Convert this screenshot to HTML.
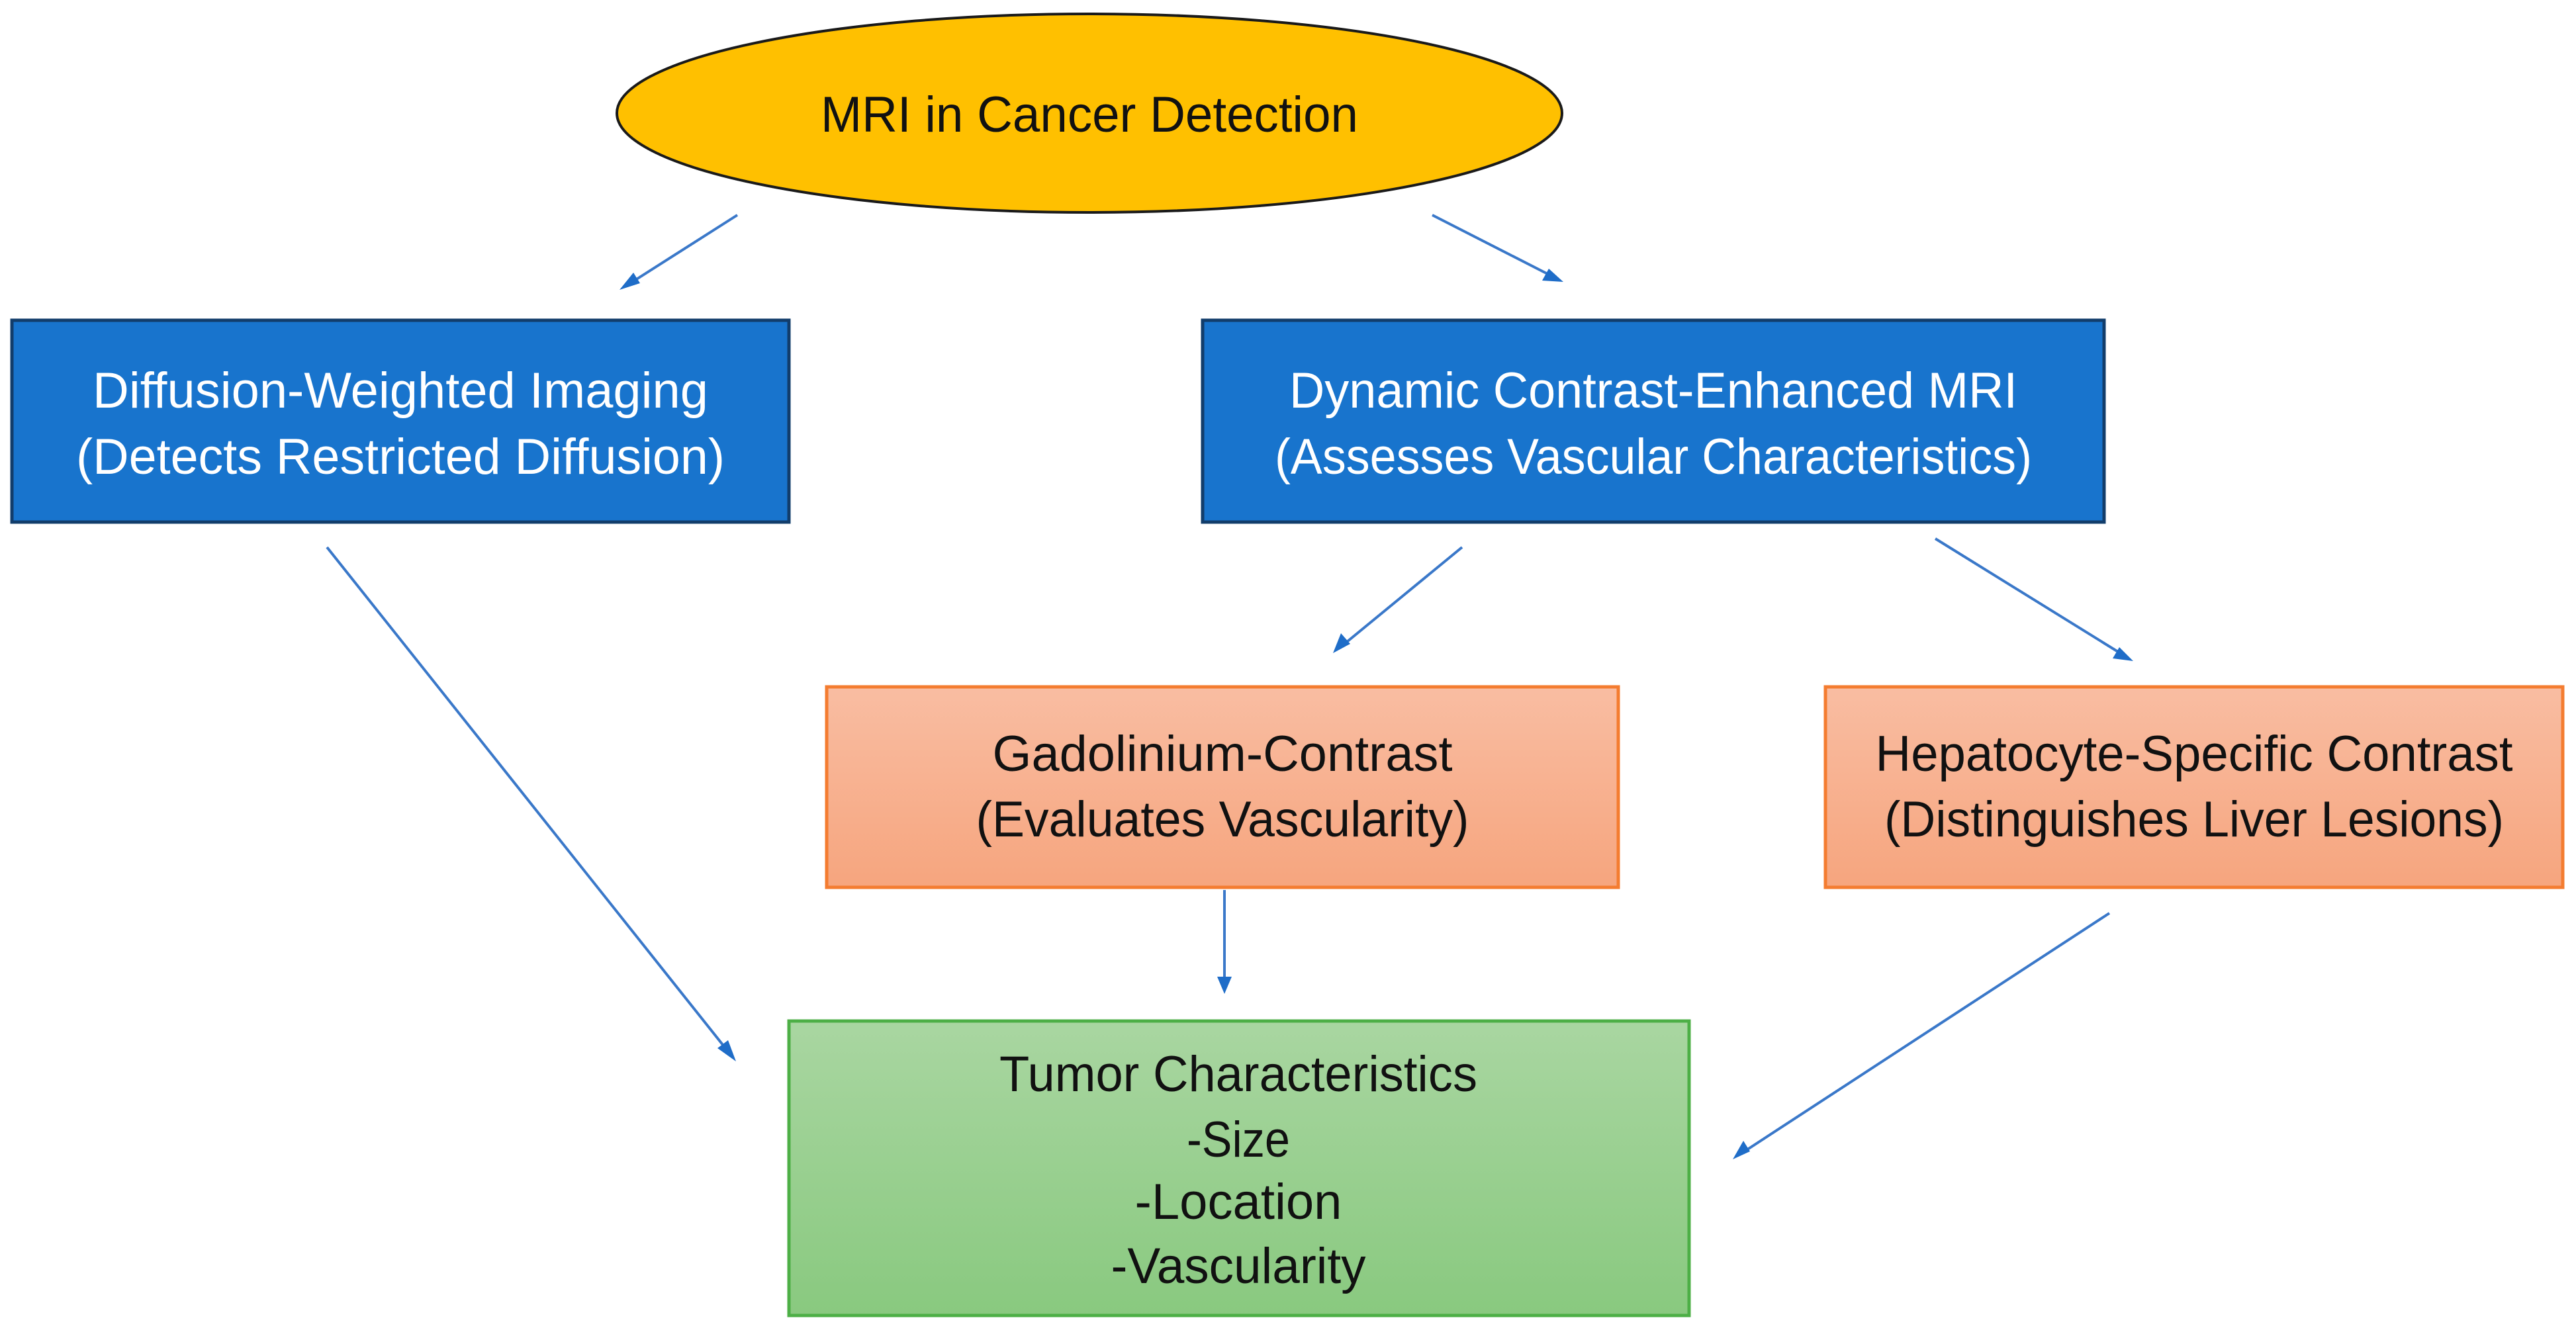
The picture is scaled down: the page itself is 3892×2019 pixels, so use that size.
<!DOCTYPE html>
<html><head><meta charset="utf-8"><style>
html,body{margin:0;padding:0;background:#fff;}
svg{display:block;}
text{font-family:"Liberation Sans",sans-serif;font-size:76px;text-anchor:middle;}
</style></head><body>
<svg width="3892" height="2019" viewBox="0 0 3892 2019" xmlns="http://www.w3.org/2000/svg">
<defs>
<linearGradient id="og" x1="0" y1="0" x2="0" y2="1"><stop offset="0" stop-color="#F9BDA2"/><stop offset="1" stop-color="#F6A57E"/></linearGradient>
<linearGradient id="gg" x1="0" y1="0" x2="0" y2="1"><stop offset="0" stop-color="#A9D6A1"/><stop offset="1" stop-color="#89C97F"/></linearGradient>
<marker id="ah" markerWidth="10" markerHeight="10" refX="9" refY="5" orient="auto" markerUnits="userSpaceOnUse" viewBox="0 0 10 10">
</marker>
</defs>
<ellipse cx="1646" cy="171" rx="714" ry="150" fill="#FFC000" stroke="#1a1a1a" stroke-width="4"/>
<text x="1646" y="199" fill="#111" textLength="812" lengthAdjust="spacingAndGlyphs">MRI in Cancer Detection</text>

<rect x="18" y="484" width="1174" height="305" fill="#1874CD" stroke="#123d6b" stroke-width="5"/>
<text x="605" y="616" fill="#fff" textLength="930" lengthAdjust="spacingAndGlyphs">Diffusion-Weighted Imaging</text>
<text x="605" y="716" fill="#fff" textLength="980" lengthAdjust="spacingAndGlyphs">(Detects Restricted Diffusion)</text>

<rect x="1817" y="484" width="1362" height="305" fill="#1874CD" stroke="#123d6b" stroke-width="5"/>
<text x="2498" y="616" fill="#fff" textLength="1100" lengthAdjust="spacingAndGlyphs">Dynamic Contrast-Enhanced MRI</text>
<text x="2498" y="716" fill="#fff" textLength="1144" lengthAdjust="spacingAndGlyphs">(Assesses Vascular Characteristics)</text>

<rect x="1249" y="1038" width="1196" height="303" fill="url(#og)" stroke="#F47C30" stroke-width="5"/>
<text x="1847" y="1165" fill="#111" textLength="695" lengthAdjust="spacingAndGlyphs">Gadolinium-Contrast</text>
<text x="1847" y="1264" fill="#111" textLength="745" lengthAdjust="spacingAndGlyphs">(Evaluates Vascularity)</text>

<rect x="2758" y="1038" width="1114" height="303" fill="url(#og)" stroke="#F47C30" stroke-width="5"/>
<text x="3315" y="1165" fill="#111" textLength="963" lengthAdjust="spacingAndGlyphs">Hepatocyte-Specific Contrast</text>
<text x="3315" y="1264" fill="#111" textLength="936" lengthAdjust="spacingAndGlyphs">(Distinguishes Liver Lesions)</text>

<rect x="1192" y="1543" width="1360" height="445" fill="url(#gg)" stroke="#4DAF46" stroke-width="5"/>
<text x="1871" y="1649" fill="#111" textLength="722" lengthAdjust="spacingAndGlyphs">Tumor Characteristics</text>
<text x="1871" y="1748" fill="#111" textLength="156" lengthAdjust="spacingAndGlyphs">-Size</text>
<text x="1871" y="1842" fill="#111" textLength="313" lengthAdjust="spacingAndGlyphs">-Location</text>
<text x="1871" y="1939" fill="#111" textLength="385" lengthAdjust="spacingAndGlyphs">-Vascularity</text>

<g stroke="#3A78C9" stroke-width="4" fill="none">
<line x1="1114" y1="325" x2="946" y2="432"/>
<line x1="2164" y1="325" x2="2352" y2="421"/>
<line x1="494" y1="827" x2="1104" y2="1594"/>
<line x1="2209" y1="827" x2="2024" y2="979"/>
<line x1="2924" y1="814" x2="3213" y2="993"/>
<line x1="1850" y1="1345" x2="1850" y2="1490"/>
<line x1="3187" y1="1380" x2="2628" y2="1745"/>
</g>
<g fill="#1F6DC8">
<polygon points="936,438 957,412 967,428"/>
<polygon points="2362,426 2330,424 2340,406"/>
<polygon points="1112,1604 1084,1584 1100,1572"/>
<polygon points="2014,987 2026,957 2040,973"/>
<polygon points="3223,999 3192,995 3202,978"/>
<polygon points="1850,1502 1839,1476 1861,1476"/>
<polygon points="2618,1752 2634,1724 2644,1740"/>
</g>
</svg>
</body></html>
